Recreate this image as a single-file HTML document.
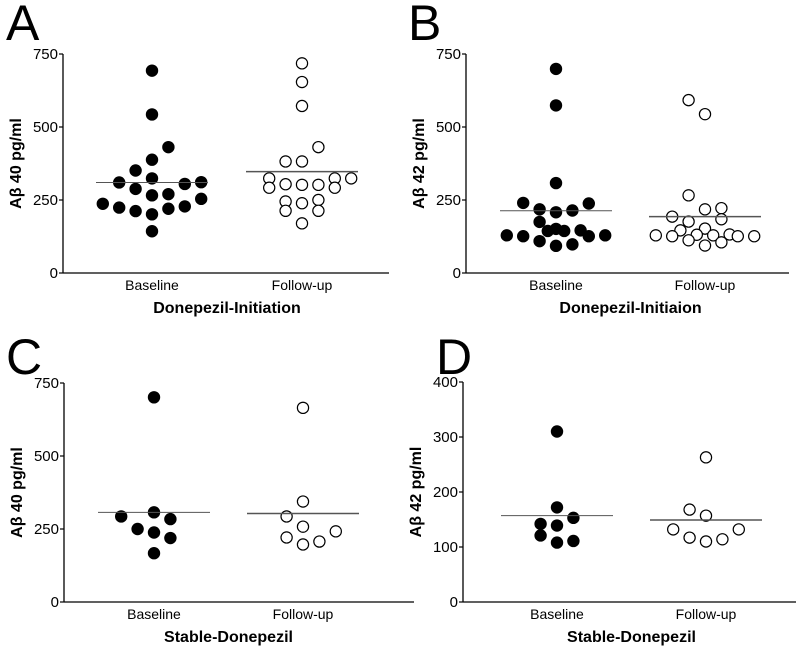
<!DOCTYPE html>
<html><head><meta charset="utf-8">
<style>
body{margin:0;background:#fff;}
svg{display:block;font-family:"Liberation Sans",Arial,sans-serif;}
</style></head>
<body>
<svg id="fig" width="800" height="649" viewBox="0 0 800 649" xmlns="http://www.w3.org/2000/svg"></svg>
<script>
// Panel A: Abeta40, Donepezil-Initiation
const aBaseVals=[693,543,431,388,351,310,324,305,311,288,266,270,254,237,224,212,201,220,228,143];
const aBaseCols=[0,0,1,0,-1,-2,0,2,3,-1,0,1,3,-3,-2,-1,0,1,2,0];
const aFollowVals=[718,654,572,431,382,382,324,324,324,292,304,302,302,292,245,239,250,213,213,170];
const aFollowCols=[0,0,0,1,-1,0,-2,2,3,-2,-1,0,1,2,-1,0,1,-1,1,0];
const aMeans=[310,347];
// Panel B: Abeta42, Donepezil-Initiation
const bBaseVals=[699,574,308,240,238,218,214,208,175,144,151,144,146,129,126,126,129,109,98,93];
const bBaseCols=[0,0,0,-2,2,-1,1,0,-1,-0.5,0,0.5,1.5,-3,-2,2,3,-1,1,0];
const bFollowVals=[592,544,266,218,222,193,176,184,146,152,131,129,132,129,126,126,126,112,105,94];
const bFollowCols=[-1,0,-1,0,1,-2,-1,1,-1.5,0,-0.5,0.5,1.5,-3,-2,2,3,-1,1,0];
const bMeans=[213,193];
// Panel C: Abeta40, Stable-Donepezil
const cBaseVals=[701,293,307,284,250,238,219,167];
const cBaseCols=[0,-2,0,1,-1,0,1,0];
const cFollowVals=[665,344,293,258,242,221,197,207];
const cFollowCols=[0,0,-1,0,2,-1,0,1];
const cMeans=[307,303];
// Panel D: Abeta42, Stable-Donepezil
const dBaseVals=[310,172,142,139,153,121,108,111];
const dBaseCols=[0,0,-1,0,1,-1,0,1];
const dFollowVals=[263,168,157,132,132,117,110,114];
const dFollowCols=[0,-1,0,-2,2,-1,0,1];
const dMeans=[157,149];
const categories=["Baseline","Follow-up"];
const ticks750=[0,250,500,750];
const ticks400=[0,100,200,300,400];

const NS="http://www.w3.org/2000/svg";
const svg=document.getElementById('fig');
function mk(tag,attrs,parent){const e=document.createElementNS(NS,tag);for(const k in attrs)e.setAttribute(k,attrs[k]);(parent||svg).appendChild(e);return e;}

function panel(o){
  const g=mk('g',{});
  
  
  const y=v=>o.y0-(v/o.max)*(o.y0-o.yTop);
  const cx=[o.c0,o.c1];
  const L=mk('text',{x:o.lx,y:o.ly,'font-size':50,fill:'#000'},g);L.textContent=o.letter;
  
  
  const ya=mk('line',{x1:o.ax,y1:o.yTop,x2:o.ax,y2:o.y0,stroke:'#000','stroke-width':1.3},g);
  
  
  const xa=mk('line',{x1:o.ax,y1:o.y0,x2:o.xEnd,y2:o.y0,stroke:'#000','stroke-width':1.3},g);
  
  
  o.ticks.forEach(t=>{
    mk('line',{x1:o.ax-4,y1:y(t),x2:o.ax,y2:y(t),stroke:'#000','stroke-width':1.2},g);
    const tl=mk('text',{x:o.ax-5,y:y(t)+5,'font-size':15,'text-anchor':'end',fill:'#000'},g);
    tl.textContent=t;
    
    
  });
  categories.forEach((c,i)=>{
    const t=mk('text',{x:cx[i],y:o.y0+17,'font-size':14,'text-anchor':'middle',fill:'#000'},g);
    t.textContent=c;
    
    
  });
  const xt=mk('text',{x:(o.c0+o.c1)/2,y:o.y0+40,'font-size':16,'font-weight':'bold','text-anchor':'middle',fill:'#000'},g);
  xt.textContent=o.xTitle;
  
  
  const ymid=(o.yTop+o.y0)/2;
  const yt=mk('text',{x:0,y:0,'font-size':16,'font-weight':'bold','text-anchor':'middle',fill:'#000',transform:`translate(${o.ax-42},${ymid}) rotate(-90)`},g);
  yt.textContent=o.yTitle;
  
  
  const sp=16.4;
  [[o.bv,o.bc,true],[o.fv,o.fc,false]].forEach((s,si)=>{
    s[0].forEach((v,i)=>{
      const c=mk('circle',{cx:cx[si]+s[1][i]*sp,cy:y(v),r:5.6,fill:s[2]?'#000':'#fff',stroke:'#000','stroke-width':1.2},g);
      
      
    });
    const m=mk('line',{x1:cx[si]-56,y1:y(o.means[si]),x2:cx[si]+56,y2:y(o.means[si]),stroke:'#555','stroke-width':si?1.5:1},g);
    
    
  });
}
panel({letter:'A',lx:6,ly:40,ax:63,yTop:54,y0:273,xEnd:389,max:750,ticks:ticks750,c0:152,c1:302,
  bv:aBaseVals,bc:aBaseCols,fv:aFollowVals,fc:aFollowCols,means:aMeans,xTitle:'Donepezil-Initiation',yTitle:'Aβ  40 pg/ml'});
panel({letter:'B',lx:408,ly:40,ax:466,yTop:54,y0:273,xEnd:789,max:750,ticks:ticks750,c0:556,c1:705,
  bv:bBaseVals,bc:bBaseCols,fv:bFollowVals,fc:bFollowCols,means:bMeans,xTitle:'Donepezil-Initiaion',yTitle:'Aβ  42 pg/ml'});
panel({letter:'C',lx:6,ly:374,ax:64,yTop:383,y0:602,xEnd:414,max:750,ticks:ticks750,c0:154,c1:303,
  bv:cBaseVals,bc:cBaseCols,fv:cFollowVals,fc:cFollowCols,means:cMeans,xTitle:'Stable-Donepezil',yTitle:'Aβ  40 pg/ml'});
panel({letter:'D',lx:436,ly:374,ax:463,yTop:382,y0:602,xEnd:796,max:400,ticks:ticks400,c0:557,c1:706,
  bv:dBaseVals,bc:dBaseCols,fv:dFollowVals,fc:dFollowCols,means:dMeans,xTitle:'Stable-Donepezil',yTitle:'Aβ  42 pg/ml'});
</script>
</body></html>
